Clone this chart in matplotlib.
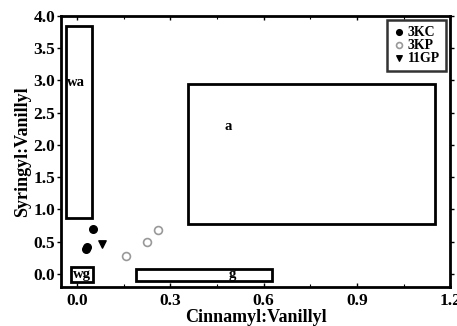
import matplotlib
matplotlib.use("Agg")
import matplotlib.pyplot as plt
from matplotlib.patches import Rectangle
from matplotlib.ticker import MultipleLocator, FormatStrFormatter

plt.rcParams['font.family'] = ['Liberation Serif', 'DejaVu Serif']
plt.rcParams['font.weight'] = 'bold'

# sample points (Cinnamyl:Vanillyl, Syringyl:Vanillyl)
kc_x = [0.050, 0.033, 0.029]
kc_y = [0.70, 0.42, 0.39]
kp_x = [0.157, 0.224, 0.260]
kp_y = [0.28, 0.50, 0.68]
gp_x = [0.080]
gp_y = [0.46]

# reference fields: name, x0, x1, y0, y1, label position
box_names = ['wa', 'a', 'wg', 'g']
box_x0 = [-0.035, 0.358, -0.020, 0.190]
box_x1 = [0.048, 1.152, 0.052, 0.626]
box_y0 = [0.87, 0.77, -0.12, -0.11]
box_y1 = [3.84, 2.94, 0.11, 0.08]
lab_x = [-0.032, 0.487, 0.016, 0.50]
lab_y = [2.97, 2.28, -0.01, -0.01]

fig = plt.figure(figsize=(4.57, 3.26), dpi=100)
ax = fig.add_axes([0.1335, 0.1196, 0.8515, 0.8324])

for i in range(len(box_names)):
    r = Rectangle((box_x0[i], box_y0[i]), box_x1[i] - box_x0[i], box_y1[i] - box_y0[i],
                  fill=False, edgecolor='black', linewidth=2)
    ax.add_patch(r)
    ha = 'left' if box_names[i] == 'wa' else 'center'
    ax.text(lab_x[i], lab_y[i], box_names[i], ha=ha, va='center',
            fontsize=10.5, fontweight='bold')

ax.scatter(kc_x, kc_y, s=30, color='black', label='3KC', zorder=3)
ax.scatter(kp_x, kp_y, s=32, facecolor='white', edgecolor='#999999',
           linewidth=1.2, label='3KP', zorder=3)
ax.scatter(gp_x, gp_y, s=28, marker='v', color='black', label='11GP', zorder=3)

ax.set_xlim(-0.052, 1.2)
ax.set_ylim(-0.2, 4.0)
ax.xaxis.set_major_locator(MultipleLocator(0.3))
ax.xaxis.set_minor_locator(MultipleLocator(0.15))
ax.yaxis.set_major_locator(MultipleLocator(0.5))
ax.xaxis.set_major_formatter(FormatStrFormatter('%.1f'))
ax.yaxis.set_major_formatter(FormatStrFormatter('%.1f'))

ax.tick_params(axis='y', which='major', direction='out', length=3, width=1,
               right=True, labelsize=12.5, pad=1)
ax.tick_params(axis='x', which='major', direction='in', length=3, width=1,
               top=True, labelsize=12.5, pad=4)
ax.tick_params(axis='x', which='minor', direction='in', length=2, width=0.8, top=True)
for lab in ax.get_xticklabels() + ax.get_yticklabels():
    lab.set_fontweight('bold')

for sp in ax.spines.values():
    sp.set_linewidth(2)

ax.set_xlabel('Cinnamyl:Vanillyl', fontsize=13, fontweight='bold', labelpad=0)
ax.set_ylabel('Syringyl:Vanillyl', fontsize=13, fontweight='bold', labelpad=2)

leg = ax.legend(loc='upper right', fontsize=10, frameon=True, fancybox=False,
                handletextpad=0.2, handlelength=0.8, labelspacing=0.0,
                borderpad=0.45, borderaxespad=0.3, markerscale=0.75)
leg.get_frame().set_edgecolor('black')
leg.get_frame().set_linewidth(1.8)
for t in leg.get_texts():
    t.set_fontweight('bold')

fig.savefig('out.png', dpi=100)
